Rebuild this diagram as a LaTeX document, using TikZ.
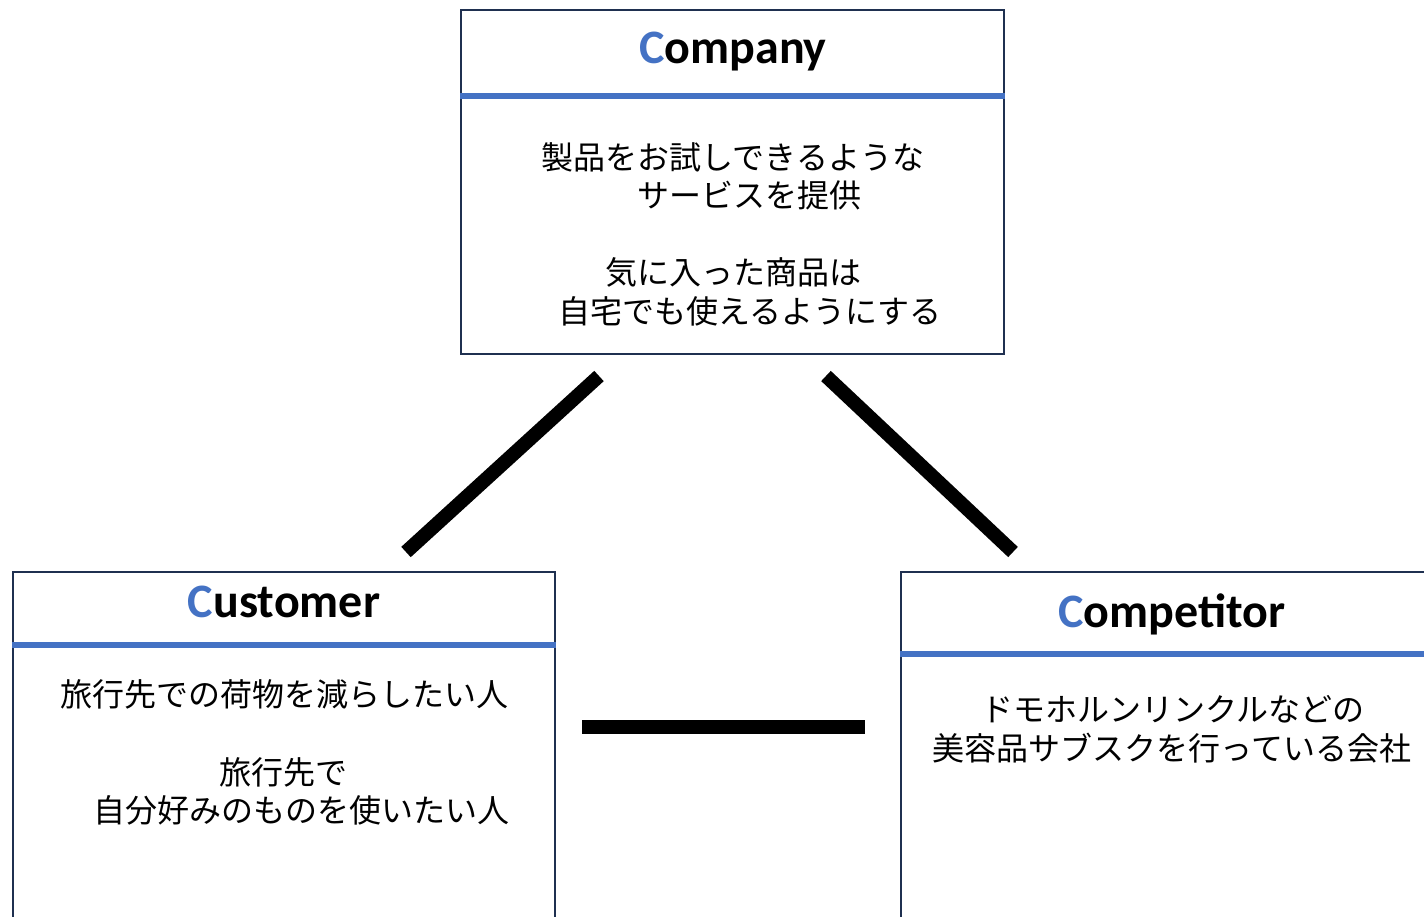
\documentclass[tikz,border=0pt]{standalone}
\usepackage{fontspec}
\setmainfont{Carlito}
\newfontfamily\jp{Noto Sans CJK JP}
\definecolor{accent}{HTML}{4472C4}
\definecolor{frame}{HTML}{1F3050}
\begin{document}
\begin{tikzpicture}[x=1pt,y=-1pt,
  panel/.style={draw=frame,line width=2pt,fill=white,inner sep=0pt},
  divider/.style={accent,line width=6pt},
  title/.style={font=\fontsize{48}{52}\selectfont\bfseries,inner sep=0pt},
  body/.style={font=\jp\fontsize{32}{38}\selectfont,inner sep=0pt,anchor=center},
  link/.style={line width=14pt,line cap=butt}]
\useasboundingbox (0,0) rectangle (1424,917);
\clip (0,0) rectangle (1424,917);
% Company
\node[panel,minimum width=543pt,minimum height=344pt] (company) at (732.5,182) {};
\draw[divider] (company.west |- 0,96) coordinate (cdl) -- (company.east |- 0,96) coordinate (cdr);
\node[title] (ctitle) at (733,52) {\textcolor{accent}{C}ompany};
\node[body] (c1) at (733,157) {製品をお試しできるような};
\node[body] (c2) at (749,195) {サービスを提供};
\node[body] (c3) at (733,272) {気に入った商品は};
\node[body] (c4) at (750,311) {自宅でも使えるようにする};
% Customer
\node[panel,minimum width=542pt,minimum height=400pt] (customer) at (284,772) {};
\draw[divider] (customer.west |- 0,645) coordinate (udl) -- (customer.east |- 0,645) coordinate (udr);
\node[title] (utitle) at (284,602) {\textcolor{accent}{C}ustomer};
\node[body] (u1) at (284,694) {旅行先での荷物を減らしたい人};
\node[body] (u2) at (283,772) {旅行先で};
\node[body] (u3) at (301,810) {自分好みのものを使いたい人};
% Competitor
\node[panel,minimum width=600pt,minimum height=400pt] (competitor) at (1201,772) {};
\draw[divider] (competitor.west |- 0,654) coordinate (pdl) -- (1424,654) coordinate (pdr);
\node[title] (ptitle) at (1172,614) {\textcolor{accent}{C}ompetitor};
\node[body] (p1) at (1173,709) {ドモホルンリンクルなどの};
\node[body] (p2) at (1172,748) {美容品サブスクを行っている会社};
% connectors
\coordinate (l1) at (599,376);
\coordinate (l2) at (406,552);
\coordinate (r1) at (826,376);
\coordinate (r2) at (1013,552);
\coordinate (h1) at (582,727);
\coordinate (h2) at (865,727);
\draw[link] (l1) -- (l2);
\draw[link] (r1) -- (r2);
\draw[link] (h1) -- (h2);
\end{tikzpicture}
\end{document}
